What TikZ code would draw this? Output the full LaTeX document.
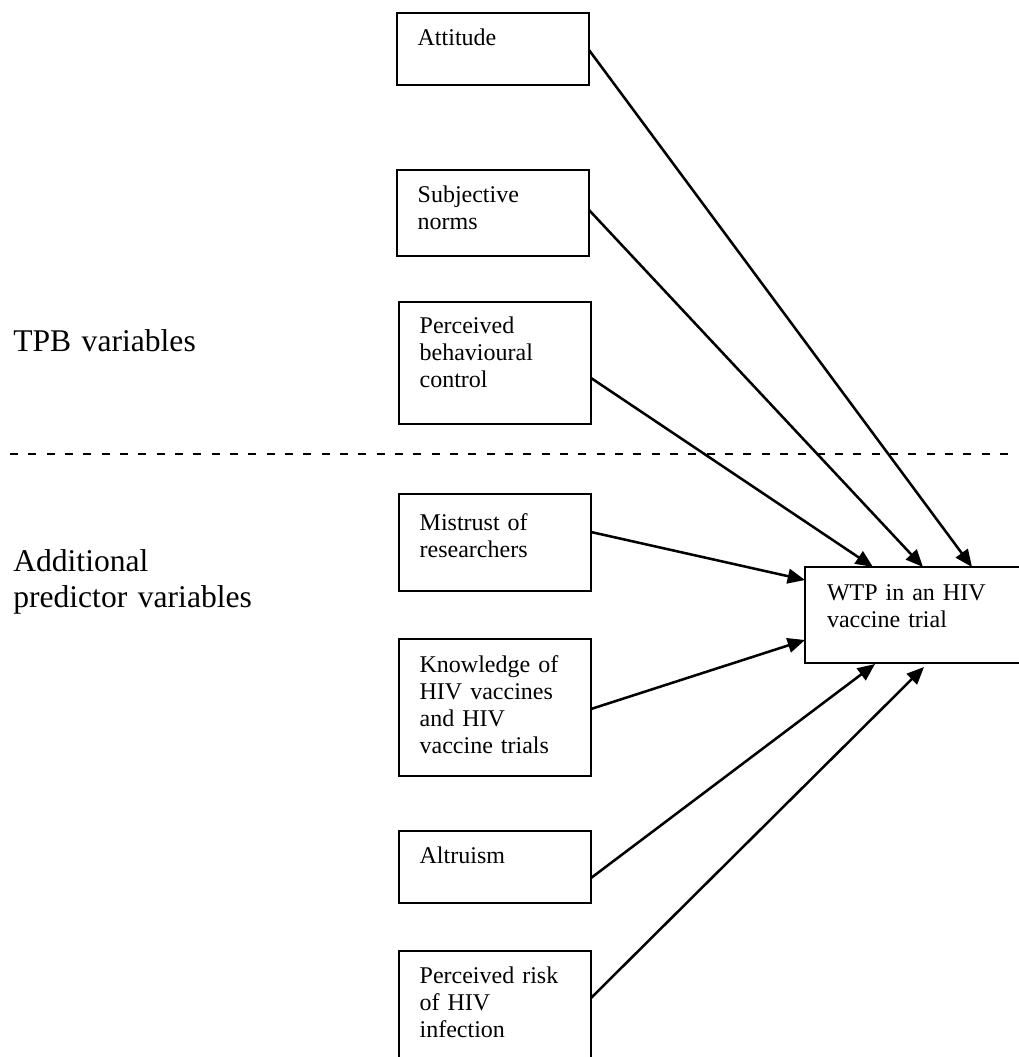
\documentclass[tikz,border=0pt]{standalone}
\usepackage{fontspec}
\setmainfont{Liberation Serif}
\usetikzlibrary{calc}
\usetikzlibrary{arrows.meta}

\begin{document}
\begin{tikzpicture}[x=0.75pt, y=-0.75pt]

		\tikzset{varbox/.style={draw, line width=1.5pt, anchor=north west, outer sep=0pt, inner xsep=15.5pt, inner ysep=8pt, text width=113pt, align=left, text height=16pt, font=\fontsize{18}{20.25}\selectfont}}
		\tikzset{grouplabel/.style={anchor=base west, inner sep=0pt, text width=200pt, align=left, font=\fontsize{23.7}{27.5}\selectfont}}
		\tikzset{link/.style={-{Triangle[length=13pt, width=11pt]}, line width=1.9pt}}

		\useasboundingbox (0,0) rectangle (1018,1057);

		% TPB variables
		\node[varbox, text depth=22pt] (att) at (397,13) {Attitude};
		\node[varbox, text depth=32.5pt] (subj) at (397,170) {Subjective\\norms};
		\node[varbox, text height=15.25pt, text depth=60.25pt] (pbc) at (399,302) {Perceived\\behavioural\\control};

		% additional predictors
		\node[varbox, text height=19pt, text depth=37.75pt] (mist) at (399,494) {Mistrust of\\researchers};
		\node[varbox, text height=16.75pt, text depth=70pt] (know) at (399,639) {Knowledge of\\HIV vaccines\\and HIV\\vaccine trials};
		\node[varbox, text depth=22pt] (alt) at (399,831) {Altruism};
		\node[varbox, text depth=68pt] (risk) at (399,951) {Perceived risk\\of HIV\\infection};

		\node[varbox, inner xsep=16.5pt, text width=139.5pt, text height=16.75pt, text depth=39.25pt] (wtp) at (805,567) {WTP in an HIV\\vaccine trial};

		\node[grouplabel] (tpb) at (13,351) {TPB variables};
		\node[grouplabel] (extra) at (13,571) {Additional\\predictor variables};

		\coordinate (sepL) at (10,454);
		\coordinate (sepR) at (1018,454);
		\draw[line width=1.1pt, dash pattern=on 6pt off 7.75pt] (sepL) -- (sepR);

		\draw[link] ($(att.north east)+(0,37)$) -- ($(wtp.north west)+(167,0)$);
		\draw[link] ($(subj.north east)+(0,40)$) -- ($(wtp.north west)+(118,0)$);
		\draw[link] ($(pbc.north east)+(0,76)$) -- ($(wtp.north west)+(68,0)$);
		\draw[link] ($(mist.north east)+(0,38)$) -- ($(wtp.north west)+(0,13)$);
		\draw[link] ($(know.north east)+(0,70)$) -- ($(wtp.north west)+(0,73)$);
		\draw[link] ($(alt.north east)+(0,47)$) -- ($(wtp.north west)+(70,97)$);
		\draw[link] ($(risk.north east)+(0,47)$) -- ($(wtp.north west)+(119,100)$);
	\end{tikzpicture}
\end{document}
